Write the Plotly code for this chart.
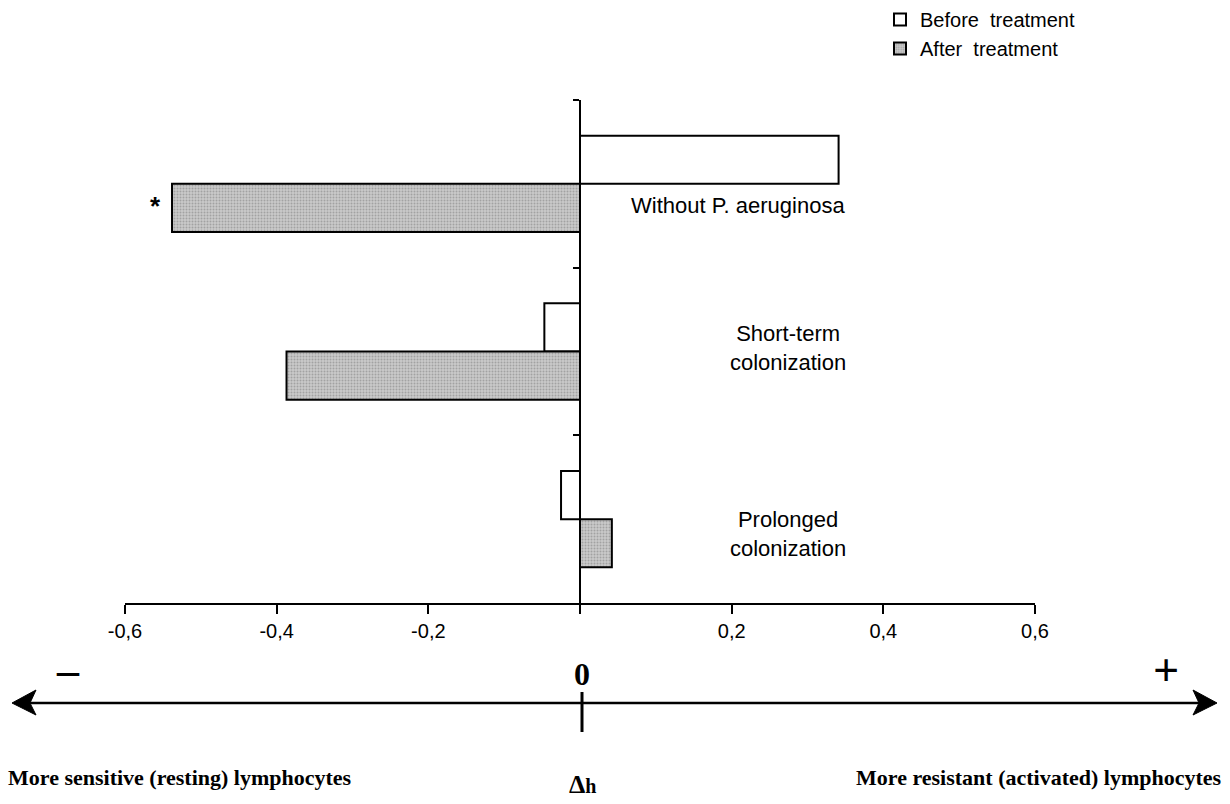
import plotly.graph_objects as go

# ---- data ----
categories = ["Without P. aeruginosa", "Short-term colonization", "Prolonged colonization"]
before_values = [0.341, -0.047, -0.025]
after_values = [-0.538, -0.387, 0.042]
series_names = ["Before  treatment", "After  treatment"]
tick_values = [-0.6, -0.4, -0.2, 0, 0.2, 0.4, 0.6]
tick_labels = ["-0,6", "-0,4", "-0,2", "", "0,2", "0,4", "0,6"]
category_labels = ["Without P. aeruginosa", "Short-term<br>colonization", "Prolonged<br>colonization"]
label_x = [0.209, 0.274, 0.274]
label_shift = [-22, 4, -15]

W, H = 1230, 804
L, R, T, B = 125, 195, 100, 201
PW, PH = W - L - R, H - T - B

def px(x):
    return (x - L) / PW

def py(y):
    return (H - B - y) / PH

SANS = "Liberation Sans, Arial, sans-serif"
SERIF = "Liberation Serif, Times New Roman, serif"

fig = go.Figure()
fig.add_trace(go.Bar(
    y=categories, x=before_values, orientation="h", name=series_names[0],
    legendgroup="a",
    marker=dict(color="white", line=dict(color="black", width=2)),
))
fig.add_trace(go.Bar(
    y=categories, x=after_values, orientation="h", name=series_names[1],
    legendgroup="b",
    marker=dict(color="#c4c4c4", line=dict(color="black", width=2),
                pattern=dict(shape=".", fgcolor="#7a7a7a", bgcolor="#cacaca",
                             size=3, solidity=0.35)),
))

annotations = []
for lab, lx, sh, cat in zip(category_labels, label_x, label_shift, categories):
    annotations.append(dict(x=lx, y=cat, xref="x", yref="y", text=lab,
                            showarrow=False, xanchor="center", yanchor="middle",
                            yshift=sh, font=dict(family=SANS, size=22, color="black")))
annotations.append(dict(x=after_values[0], y=categories[0], xref="x", yref="y", text="*",
                        showarrow=False, xanchor="right", yanchor="middle",
                        xshift=-9, yshift=-22,
                        font=dict(family=SANS, size=26, color="black", weight="bold")))

def paper_text(x, y, text, size, xanchor="center", family=SERIF, weight="bold"):
    annotations.append(dict(x=px(x), y=py(y), xref="paper", yref="paper", text=text,
                            showarrow=False, xanchor=xanchor, yanchor="middle",
                            font=dict(family=family, size=size, color="black", weight=weight)))

paper_text(582, 674, "0", 32)
paper_text(68, 670, "–", 44)
paper_text(1166, 670, "+", 46)
paper_text(6, 777, "More sensitive (resting) lymphocytes", 22, xanchor="left")
paper_text(1224, 777, "More resistant (activated) lymphocytes", 22, xanchor="right")
paper_text(582, 784, "Δ<span style='font-size:20px'>h</span>", 26)

shapes = [
    dict(type="line", xref="paper", yref="paper", x0=px(28), x1=px(1202),
         y0=py(703), y1=py(703), line=dict(color="black", width=2.5)),
    dict(type="line", xref="paper", yref="paper", x0=px(582), x1=px(582),
         y0=py(692), y1=py(732), line=dict(color="black", width=3)),
    dict(type="path", xref="paper", yref="paper",
         path=f"M{px(12)},{py(703)} L{px(36)},{py(690)} L{px(30)},{py(703)} L{px(36)},{py(715)} Z",
         fillcolor="black", line=dict(color="black", width=1)),
    dict(type="path", xref="paper", yref="paper",
         path=f"M{px(1217)},{py(703)} L{px(1193)},{py(690)} L{px(1199)},{py(703)} L{px(1193)},{py(715)} Z",
         fillcolor="black", line=dict(color="black", width=1)),
]

fig.update_layout(
    width=W, height=H,
    margin=dict(l=L, r=R, t=T, b=B, pad=0, autoexpand=False),
    paper_bgcolor="white", plot_bgcolor="white",
    barmode="group", bargap=0.425, bargroupgap=0,
    showlegend=True,
    legend=dict(x=px(880), y=py(0), xanchor="left", yanchor="top",
                font=dict(family=SANS, size=20, color="black"),
                bgcolor="rgba(0,0,0,0)", tracegroupgap=10, traceorder="normal"),
    xaxis=dict(range=[-0.6, 0.6], tickvals=tick_values, ticktext=tick_labels,
               ticks="outside", ticklen=9, tickwidth=2, tickcolor="black",
               showline=True, linewidth=2, linecolor="black",
               showgrid=False, zeroline=False,
               tickfont=dict(family=SANS, size=20, color="black")),
    yaxis=dict(type="category", autorange="reversed", categoryorder="array",
               categoryarray=categories,
               anchor="free", position=0.5, showline=True, linewidth=2, linecolor="black",
               tickson="boundaries", ticks="outside", ticklen=6, tickwidth=2, tickcolor="black",
               showticklabels=False, showgrid=False, zeroline=False),
    annotations=annotations,
    shapes=shapes,
)

fig.write_html("out.html")
